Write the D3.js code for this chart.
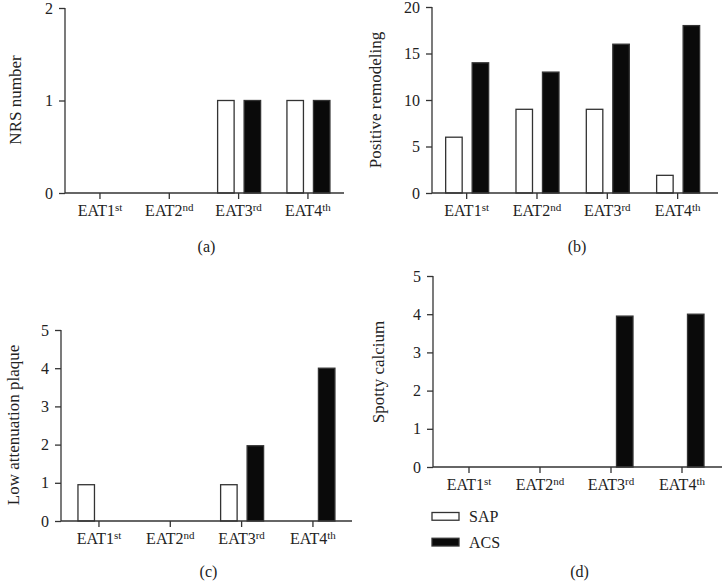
<!DOCTYPE html>
<html><head><meta charset="utf-8">
<script src="https://cdn.jsdelivr.net/npm/d3@7"></script>
<style>
body{margin:0;background:#fff;}
text{font-family:"Liberation Serif","DejaVu Serif",serif;fill:#222;}
</style></head>
<body><svg id="c" width="722" height="581"></svg>
<script>
const categories = ["EAT1", "EAT2", "EAT3", "EAT4"];
const suffixes = ["st", "nd", "rd", "th"];
const series = ["SAP", "ACS"];
const nrsSAP = [0, 0, 1, 1];
const nrsACS = [0, 0, 1, 1];
const prSAP = [6, 9, 9, 1.9];
const prACS = [14, 13, 16, 18];
const lapSAP = [0.95, 0, 0.95, 0];
const lapACS = [0, 0, 1.97, 4];
const scSAP = [0, 0, 0, 0];
const scACS = [0, 0, 3.95, 4];
const nrsTicks = [0, 1, 2];
const prTicks = [0, 5, 10, 15, 20];
const fiveTicks = [0, 1, 2, 3, 4, 5];

const panels = [
  {id:"(a)", label:"NRS number", sap:nrsSAP, acs:nrsACS, max:2, ticks:nrsTicks,
   axis:[65,344], band:[65.3,342.6], top:8, base:193, ylx:15, yly:100, capY:252},
  {id:"(b)", label:"Positive remodeling", sap:prSAP, acs:prACS, max:20, ticks:prTicks,
   axis:[432,718], band:[431.5,712.8], top:7, base:193, ylx:375, yly:100, capY:252},
  {id:"(c)", label:"Low attenuation plaque", sap:lapSAP, acs:lapACS, max:5, ticks:fiveTicks,
   axis:[61,352], band:[63.3,348.6], top:330, base:521, ylx:13, yly:425, capY:577},
  {id:"(d)", label:"Spotty calcium", sap:scSAP, acs:scACS, max:5, ticks:fiveTicks,
   axis:[433,722], band:[433.5,717.5], top:276, base:467, ylx:378, yly:372, capY:577}
];

const svg = d3.select("#c");
const stroke = "#333";

panels.forEach(p => {
  const g = svg.append("g");
  const x = d3.scaleBand().domain(categories).range(p.band).padding(0);
  const sub = d3.scaleBand().domain(series).range([-21, 22]).paddingInner(0.377).paddingOuter(0);
  const y = d3.scaleLinear().domain([0, p.max]).range([p.base, p.top]);

  const rows = [];
  categories.forEach((c, i) => {
    rows.push({c, s:"SAP", v:p.sap[i]});
    rows.push({c, s:"ACS", v:p.acs[i]});
  });
  g.selectAll("rect.bar").data(rows.filter(d => d.v > 0)).join("rect")
    .attr("x", d => x(d.c) + x.bandwidth()/2 + sub(d.s))
    .attr("y", d => y(d.v))
    .attr("width", sub.bandwidth())
    .attr("height", d => y(0) - y(d.v))
    .attr("fill", d => d.s === "SAP" ? "#fff" : "#0a0a0a")
    .attr("stroke", "#333")
    .attr("stroke-width", 1.3);

  const ya = g.append("g").attr("transform", `translate(${p.axis[0]},0)`)
    .call(d3.axisLeft(y).tickValues(p.ticks).tickSize(6).tickPadding(6).tickFormat(d3.format("d")));
  ya.select(".domain").attr("stroke", stroke).attr("stroke-width", 1.3).attr("d", `M0,${p.top}V${p.base}`);
  ya.selectAll(".tick line").attr("stroke", stroke).attr("stroke-width", 1.3);
  ya.selectAll(".tick text").attr("font-size", 16).attr("font-family", "Liberation Serif").attr("fill", "#222");

  const xa = g.append("g").attr("transform", `translate(0,${p.base})`)
    .call(d3.axisBottom(x).tickSize(6).tickPadding(6).tickFormat(() => ""));
  xa.select(".domain").attr("stroke", stroke).attr("stroke-width", 1.3).attr("d", `M${p.axis[0]},0H${p.axis[1]}`);
  xa.selectAll(".tick line").attr("stroke", stroke).attr("stroke-width", 1.3);
  xa.selectAll(".tick text").remove();
  categories.forEach((c, i) => {
    const t = g.append("text")
      .attr("x", x(c) + x.bandwidth()/2)
      .attr("y", p.base + 23)
      .attr("text-anchor", "middle")
      .attr("font-size", 16);
    t.append("tspan").text(c);
    t.append("tspan").text(suffixes[i]).attr("font-size", 11).attr("dy", -5);
  });

  g.append("text")
    .attr("transform", `translate(${p.ylx},${p.yly}) rotate(-90)`)
    .attr("text-anchor", "middle")
    .attr("dy", "0.35em")
    .attr("font-size", 17)
    .text(p.label);

  g.append("text")
    .attr("x", (p.axis[0] + p.axis[1]) / 2 + 2)
    .attr("y", p.capY)
    .attr("text-anchor", "middle")
    .attr("font-size", 16)
    .text(p.id);
});

const leg = svg.append("g");
const legY = d3.scaleBand().domain(series).range([512.5, 546]).paddingInner(0.7);
series.forEach(s => {
  leg.append("rect")
    .attr("x", 432).attr("y", legY(s))
    .attr("width", 27).attr("height", legY.bandwidth())
    .attr("fill", s === "SAP" ? "#fff" : "#0a0a0a")
    .attr("stroke", "#333").attr("stroke-width", 1.3);
  leg.append("text")
    .attr("x", 469).attr("y", legY(s) + legY.bandwidth()/2)
    .attr("dy", "0.35em")
    .attr("font-size", 16)
    .text(s);
});
</script></body></html>
